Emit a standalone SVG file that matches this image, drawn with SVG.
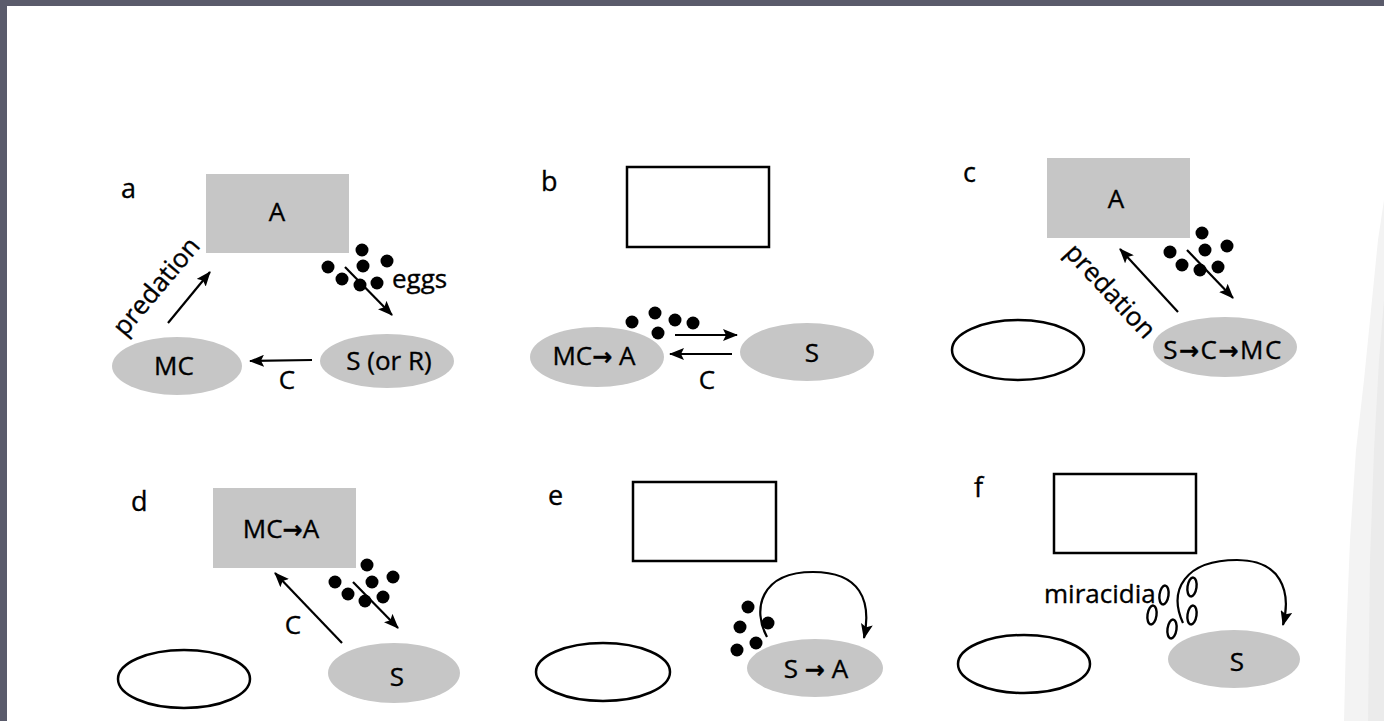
<svg xmlns="http://www.w3.org/2000/svg" width="1384" height="721" viewBox="0 0 1384 721">
<defs>
<marker id="ah" markerUnits="userSpaceOnUse" markerWidth="15" markerHeight="12" refX="14" refY="6" orient="auto">
<path d="M0,0 L15,6 L0,12 L3,6 z" fill="#000"/>
</marker>
<style>
.t{font-family:"Open Sans","Liberation Sans",sans-serif;font-size:26px;font-weight:normal;fill:#000;stroke:#000;stroke-width:0.35}
.lab{font-size:27px}
.m{text-anchor:middle}
.ar{font-family:"DejaVu Sans",sans-serif;font-weight:bold;font-size:24px}
.g{fill:#c6c6c6;stroke:none}
.o{fill:none;stroke:#000;stroke-width:2.5}
.ln{fill:none;stroke:#000;stroke-width:2.2;marker-end:url(#ah)}
.d{fill:#000}
.mir{fill:none;stroke:#000;stroke-width:2.4}
</style>
</defs>
<rect x="0" y="0" width="1384" height="721" fill="#fff"/>
<path d="M1384,200 L1378,240 L1372,300 L1364,380 L1356,450 L1350,540 L1346,640 L1344,721 L1384,721 z" fill="#f3f3f3"/>
<path d="M1384,300 L1379,360 L1374,450 L1370,560 L1368,721 L1384,721 z" fill="#ebebeb"/>
<rect x="0" y="0" width="1384" height="6" fill="#5a5b6b"/>
<rect x="0" y="0" width="7" height="721" fill="#5a5b6b"/>

<!-- Panel a -->
<g id="panel-a">
<text class="t lab" x="121" y="198">a</text>
<g id="a-A"><rect class="g" x="206" y="174" width="143" height="79"/><text class="t m" x="277" y="221">A</text></g>
<g id="a-MC"><ellipse class="g" cx="177" cy="366" rx="65" ry="29"/><text class="t m" x="174" y="375">MC</text></g>
<g id="a-S"><ellipse class="g" cx="387" cy="361" rx="67" ry="27"/><text class="t m" x="389" y="370">S (or R)</text></g>
<g id="a-eggs">
<circle class="d" cx="362" cy="250" r="6.5"/><circle class="d" cx="328" cy="267" r="6.5"/><circle class="d" cx="363" cy="266" r="6.5"/><circle class="d" cx="387" cy="261" r="6.5"/><circle class="d" cx="342" cy="279" r="6.5"/><circle class="d" cx="360" cy="285" r="6.5"/><circle class="d" cx="377" cy="283" r="6.5"/>
<text class="t" x="392" y="288">eggs</text>
</g>
<text class="t m" transform="translate(163,292) rotate(-50)">predation</text>
<text class="t m" x="287" y="389">C</text>
</g>

<!-- Panel b -->
<g id="panel-b">
<text class="t lab" x="541" y="191">b</text>
<g id="b-A"><rect class="o" x="627" y="167" width="142" height="80"/></g>
<g id="b-MC"><ellipse class="g" cx="597" cy="357" rx="67" ry="30"/><text class="t m" x="594" y="365">MC<tspan class="ar">→</tspan> A</text></g>
<g id="b-S"><ellipse class="g" cx="807" cy="352" rx="67" ry="29"/><text class="t m" x="812" y="362">S</text></g>
<g id="b-eggs"><circle class="d" cx="632" cy="322" r="6.5"/><circle class="d" cx="655" cy="313" r="6.5"/><circle class="d" cx="675" cy="320" r="6.5"/><circle class="d" cx="693" cy="323" r="6.5"/><circle class="d" cx="658" cy="333" r="6.5"/></g>
<text class="t m" x="707" y="389">C</text>
</g>

<!-- Panel c -->
<g id="panel-c">
<text class="t lab" x="963" y="182">c</text>
<g id="c-A"><rect class="g" x="1047" y="158" width="143" height="80"/><text class="t m" x="1116" y="208">A</text></g>
<g id="c-empty"><ellipse class="o" cx="1018" cy="350" rx="66" ry="30"/></g>
<g id="c-S"><ellipse class="g" cx="1225" cy="347" rx="72" ry="30"/><text class="t m" x="1223" y="359" letter-spacing="1.5">S<tspan class="ar">→</tspan>C<tspan class="ar">→</tspan>MC</text></g>
<g id="c-eggs"><circle class="d" cx="1202" cy="233" r="6.5"/><circle class="d" cx="1170" cy="252" r="6.5"/><circle class="d" cx="1205" cy="250" r="6.5"/><circle class="d" cx="1227" cy="246" r="6.5"/><circle class="d" cx="1182" cy="265" r="6.5"/><circle class="d" cx="1200" cy="270" r="6.5"/><circle class="d" cx="1218" cy="267" r="6.5"/></g>
<text class="t m" transform="translate(1104,297) rotate(47)">predation</text>
</g>

<!-- Panel d -->
<g id="panel-d">
<text class="t lab" x="131" y="511">d</text>
<g id="d-A"><rect class="g" x="213" y="488" width="143" height="80"/><text class="t m" x="281" y="538">MC<tspan class="ar" font-size="30">→</tspan>A</text></g>
<g id="d-empty"><ellipse class="o" cx="184" cy="679" rx="66" ry="29"/></g>
<g id="d-S"><ellipse class="g" cx="394" cy="673" rx="66" ry="30"/><text class="t m" x="397" y="686">S</text></g>
<g id="d-eggs"><circle class="d" cx="367" cy="565" r="6.5"/><circle class="d" cx="335" cy="582" r="6.5"/><circle class="d" cx="372" cy="582" r="6.5"/><circle class="d" cx="393" cy="577" r="6.5"/><circle class="d" cx="348" cy="594" r="6.5"/><circle class="d" cx="365" cy="601" r="6.5"/><circle class="d" cx="383" cy="597" r="6.5"/></g>
<text class="t m" x="293" y="634">C</text>
</g>

<!-- Panel e -->
<g id="panel-e">
<text class="t lab" x="548" y="505">e</text>
<g id="e-A"><rect class="o" x="633" y="482" width="143" height="79"/></g>
<g id="e-empty"><ellipse class="o" cx="603" cy="672" rx="67" ry="29"/></g>
<g id="e-S"><ellipse class="g" cx="815" cy="668" rx="68" ry="29"/><text class="t m" x="816" y="678">S <tspan class="ar">→</tspan> A</text></g>
<g id="e-eggs"><circle class="d" cx="748" cy="607" r="6.5"/><circle class="d" cx="768" cy="623" r="6.5"/><circle class="d" cx="740" cy="627" r="6.5"/><circle class="d" cx="756" cy="643" r="6.5"/><circle class="d" cx="737" cy="650" r="6.5"/></g>
</g>

<!-- Panel f -->
<g id="panel-f">
<text class="t lab" x="974" y="497">f</text>
<g id="f-A"><rect class="o" x="1054" y="474" width="142" height="79"/></g>
<g id="f-empty"><ellipse class="o" cx="1024" cy="664" rx="66" ry="29"/></g>
<g id="f-S"><ellipse class="g" cx="1234" cy="659" rx="66" ry="29"/><text class="t m" x="1237" y="671">S</text></g>
<g id="f-miracidia">
<text class="t" x="1044" y="603">miracidia</text>
<ellipse class="mir" cx="1164" cy="595" rx="4.5" ry="9.5" transform="rotate(8 1164 595)"/>
<ellipse class="mir" cx="1192" cy="587" rx="4.5" ry="9.5" transform="rotate(8 1192 587)"/>
<ellipse class="mir" cx="1152" cy="615" rx="4.5" ry="9.5" transform="rotate(8 1152 615)"/>
<ellipse class="mir" cx="1192" cy="615" rx="4.5" ry="9.5" transform="rotate(8 1192 615)"/>
<ellipse class="mir" cx="1172" cy="629" rx="4.5" ry="9.5" transform="rotate(8 1172 629)"/>
</g>
</g>

<g id="connectors">
<line class="ln" x1="168" y1="323" x2="210" y2="272"/>
<line class="ln" x1="312" y1="360" x2="250" y2="361"/>
<line class="ln" x1="345" y1="267" x2="392" y2="315"/>
<line class="ln" x1="675" y1="335" x2="737" y2="335"/>
<line class="ln" x1="732" y1="354" x2="670" y2="354"/>
<line class="ln" x1="1178" y1="312" x2="1120" y2="249"/>
<line class="ln" x1="1187" y1="250" x2="1233" y2="298"/>
<line class="ln" x1="342" y1="643" x2="275" y2="573"/>
<line class="ln" x1="353" y1="582" x2="398" y2="628"/>
<path class="ln" d="M767,637 C752,610 760,572 813,572 C860,572 872,600 864,638"/>
<path class="ln" d="M1183,623 C1168,590 1185,560 1237,560 C1280,560 1292,590 1283,625"/>
</g>
</svg>
